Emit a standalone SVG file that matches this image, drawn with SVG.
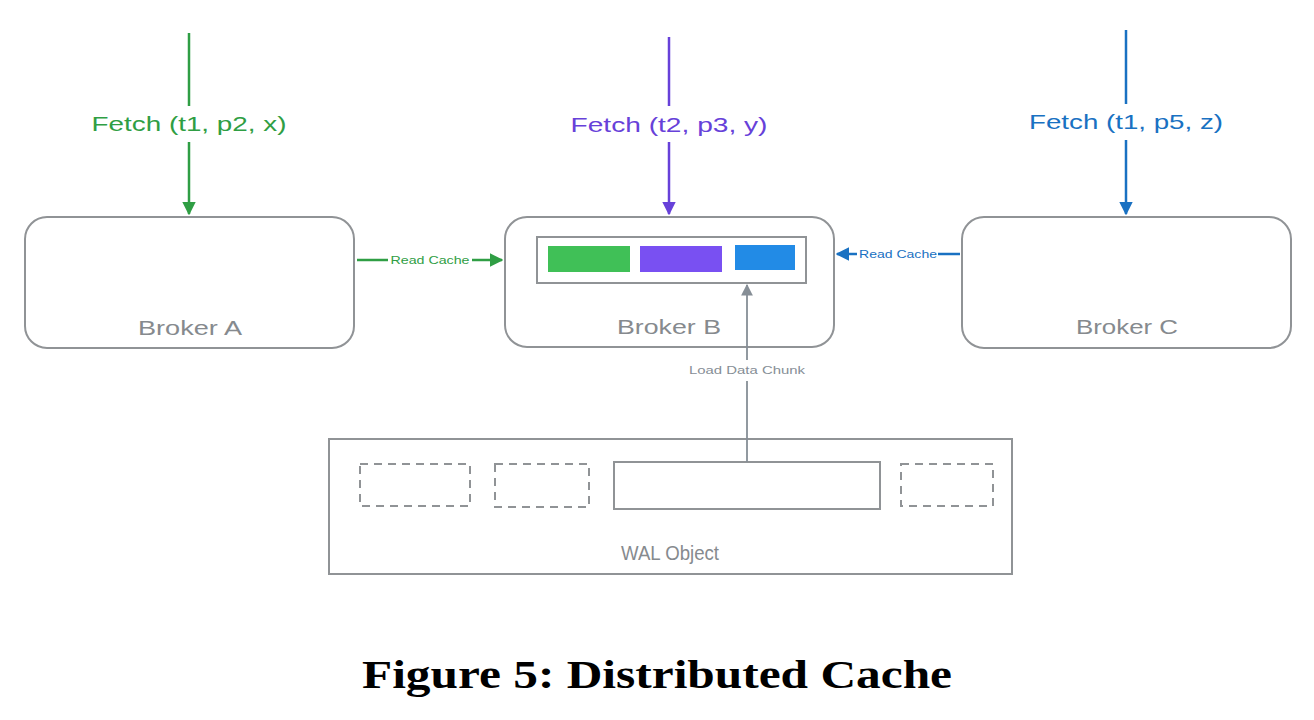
<svg xmlns="http://www.w3.org/2000/svg" width="1314" height="720" viewBox="0 0 1314 720">
<style>
.box{fill:#fff;stroke:#909396;stroke-width:2}
.lbl{font-family:"Liberation Sans",sans-serif;fill:#868a8e;font-size:21px;text-anchor:middle}
.fetch{font-family:"Liberation Sans",sans-serif;font-size:21px;text-anchor:middle}
.small{font-family:"Liberation Sans",sans-serif;font-size:11px;text-anchor:middle}
.dash{fill:none;stroke:#909396;stroke-width:2;stroke-dasharray:8 6}
</style>
<defs>
<marker id="ag" viewBox="0 0 10 10" refX="9" refY="5" markerWidth="5.5" markerHeight="5.5" orient="auto" markerUnits="strokeWidth"><path d="M0,0 L10,5 L0,10 z" fill="#2f9e44"/></marker>
<marker id="ap" viewBox="0 0 10 10" refX="9" refY="5" markerWidth="5.5" markerHeight="5.5" orient="auto" markerUnits="strokeWidth"><path d="M0,0 L10,5 L0,10 z" fill="#6741d9"/></marker>
<marker id="ab" viewBox="0 0 10 10" refX="9" refY="5" markerWidth="5.5" markerHeight="5.5" orient="auto" markerUnits="strokeWidth"><path d="M0,0 L10,5 L0,10 z" fill="#1971c2"/></marker>
<marker id="ax" viewBox="0 0 10 10" refX="9" refY="5" markerWidth="6.5" markerHeight="6.5" orient="auto" markerUnits="strokeWidth"><path d="M0,0 L10,5 L0,10 z" fill="#868e96"/></marker>
</defs>
<rect width="1314" height="720" fill="#fff"/>

<g id="brokerA">
<rect class="box" x="25" y="217" width="329" height="131" rx="22"/>
<text class="lbl" x="190" y="335" textLength="104" lengthAdjust="spacingAndGlyphs">Broker A</text>
</g>
<g id="brokerB">
<rect class="box" x="505" y="217" width="329" height="130" rx="22"/>
<rect x="537" y="237" width="269" height="46" fill="#fff" stroke="#909396" stroke-width="2"/>
<rect x="548" y="246" width="82" height="26" fill="#40c057"/>
<rect x="640" y="246" width="82" height="26" fill="#7950f2"/>
<rect x="735" y="245" width="60" height="25" fill="#228be6"/>
<text class="lbl" x="669" y="334" textLength="104" lengthAdjust="spacingAndGlyphs">Broker B</text>
</g>
<g id="brokerC">
<rect class="box" x="962" y="217" width="329" height="131" rx="22"/>
<text class="lbl" x="1127" y="334" textLength="102" lengthAdjust="spacingAndGlyphs">Broker C</text>
</g>
<g id="wal">
<rect x="329" y="439" width="683" height="135" fill="#fff" stroke="#909396" stroke-width="2"/>
<rect class="dash" x="360" y="464" width="110" height="42"/>
<rect class="dash" x="495" y="464" width="94" height="43"/>
<rect x="614" y="462" width="266" height="47" fill="#fff" stroke="#909396" stroke-width="2"/>
<rect class="dash" x="901" y="464" width="92" height="42"/>
<text class="lbl" x="670" y="560" textLength="98" lengthAdjust="spacingAndGlyphs">WAL Object</text>
</g>

<g id="connectors" fill="none" stroke-width="2.5">
<line x1="189" y1="33" x2="189" y2="106" stroke="#2f9e44"/>
<line x1="189" y1="142" x2="189" y2="214" stroke="#2f9e44" marker-end="url(#ag)"/>
<line x1="669" y1="37" x2="669" y2="106" stroke="#6741d9"/>
<line x1="669" y1="142" x2="669" y2="214" stroke="#6741d9" marker-end="url(#ap)"/>
<line x1="1126" y1="30" x2="1126" y2="104" stroke="#1971c2"/>
<line x1="1126" y1="140" x2="1126" y2="214" stroke="#1971c2" marker-end="url(#ab)"/>
<line x1="357" y1="260" x2="388" y2="260" stroke="#2f9e44"/>
<line x1="472" y1="260" x2="502" y2="260" stroke="#2f9e44" marker-end="url(#ag)"/>
<line x1="960" y1="254" x2="938" y2="254" stroke="#1971c2"/>
<line x1="857" y1="254" x2="837" y2="254" stroke="#1971c2" marker-end="url(#ab)"/>
<line x1="747" y1="462" x2="747" y2="381" stroke="#868e96" stroke-width="1.8"/>
<line x1="747" y1="360" x2="747" y2="285" stroke="#868e96" stroke-width="1.8" marker-end="url(#ax)"/>
</g>

<g id="labels">
<text class="fetch" x="189" y="131" fill="#2f9e44" textLength="195" lengthAdjust="spacingAndGlyphs">Fetch (t1, p2, x)</text>
<text class="fetch" x="669" y="132" fill="#6741d9" textLength="197" lengthAdjust="spacingAndGlyphs">Fetch (t2, p3, y)</text>
<text class="fetch" x="1126" y="129" fill="#1971c2" textLength="194" lengthAdjust="spacingAndGlyphs">Fetch (t1, p5, z)</text>
<text class="small" x="430" y="264" fill="#2f9e44" textLength="79" lengthAdjust="spacingAndGlyphs">Read Cache</text>
<text class="small" x="898" y="258" fill="#1971c2" textLength="78" lengthAdjust="spacingAndGlyphs">Read Cache</text>
<text class="small" x="747" y="374" fill="#868e96" textLength="116" lengthAdjust="spacingAndGlyphs">Load Data Chunk</text>
</g>

<text x="657" y="688" font-family="Liberation Serif,serif" font-weight="bold" font-size="40" text-anchor="middle" fill="#000" textLength="590" lengthAdjust="spacingAndGlyphs">Figure 5: Distributed Cache</text>
</svg>
